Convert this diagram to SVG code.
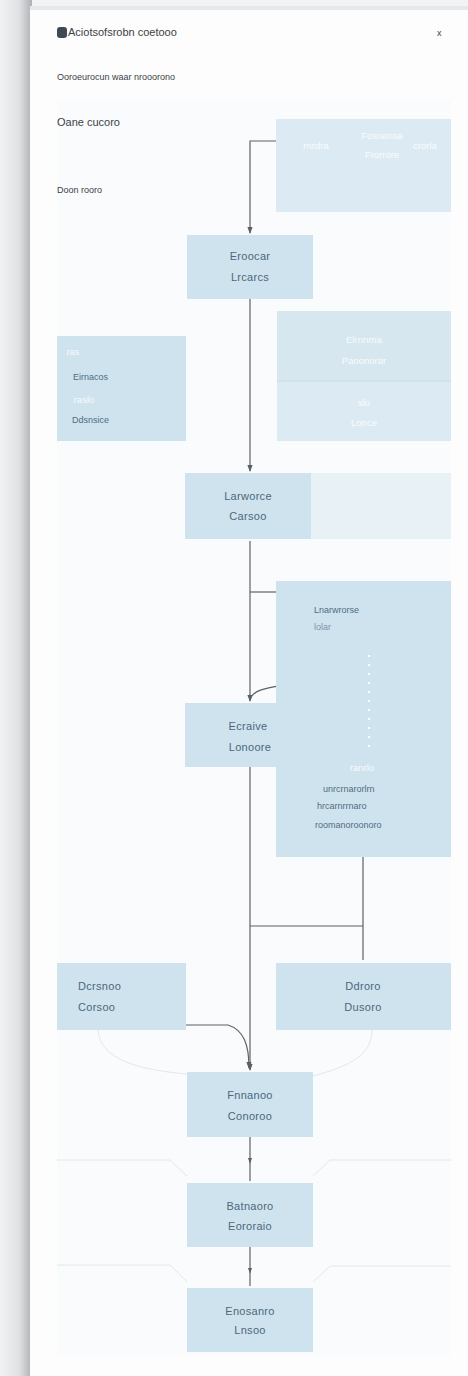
<svg xmlns="http://www.w3.org/2000/svg" width="468" height="1376" viewBox="0 0 468 1376">
<defs>
<linearGradient id="shadow" x1="0" x2="1" y1="0" y2="0">
<stop offset="0" stop-color="#f1f2f3"/>
<stop offset="0.6" stop-color="#dfe1e3"/>
<stop offset="1" stop-color="#aeb2b5"/>
</linearGradient>
<marker id="arr" viewBox="0 0 8 8" refX="7" refY="4" markerWidth="6" markerHeight="6" orient="auto">
<path d="M0,1 L8,4 L0,7 z" fill="#5a5f63"/>
</marker>
<style>
.node{fill:#cfe3ee}
.pale{fill:#dcebf3}
.ntx{font-family:"Liberation Sans",Arial,sans-serif;font-size:11px;fill:#4b687c;text-anchor:middle;letter-spacing:0.3px}
.ltx{font-family:"Liberation Sans",Arial,sans-serif;font-size:9px;fill:#4f6d82}
.lbig{font-family:"Liberation Sans",Arial,sans-serif;font-size:11px;fill:#4b687c;letter-spacing:0.3px}
.wtx{font-family:"Liberation Sans",Arial,sans-serif;font-size:9.5px;fill:#ffffff;fill-opacity:0.85;text-anchor:middle}
.hdr{font-family:"Liberation Sans",Arial,sans-serif;fill:#3c4247}
.ln{fill:none;stroke:#5e6266;stroke-width:1.2}
.faint{fill:none;stroke:#e4e8ea;stroke-width:1}
</style>
</defs>
<rect x="0" y="0" width="468" height="1376" fill="#f2f3f4"/>
<rect x="0" y="0" width="32" height="1376" fill="url(#shadow)"/>
<rect x="30" y="9" width="438" height="1367" fill="#fdfdfd"/>
<rect x="30" y="6" width="438" height="4" fill="#e6e8e9"/>
<rect x="57" y="100" width="394" height="1255" fill="#f9fbfc"/>
<g id="background-lines">
<path class="faint" d="M98,1030 C100,1060 140,1070 187,1074"/>
<path class="faint" d="M372,1030 C372,1055 350,1066 313,1076"/>
<path class="faint" d="M57,1160 H170 L187,1176"/>
<path class="faint" d="M313,1176 L330,1160 H451"/>
<path class="faint" d="M57,1265 H170 L187,1282"/>
<path class="faint" d="M313,1282 L330,1266 H451"/>
</g>
<g id="header">
<rect x="57" y="27" width="10" height="11" rx="3" fill="#3d4a55"/>
<text class="hdr" x="68" y="36" font-size="11">Aciotsofsrobn coetooo</text>
<text class="hdr" x="437" y="36" font-size="9">x</text>
<text class="hdr" x="57" y="80" font-size="9">Ooroeurocun waar nrooorono</text>
<text class="hdr" x="57" y="126" font-size="11">Oane cucoro</text>
<text class="hdr" x="57" y="193" font-size="9">Doon rooro</text>
</g>
<g id="connectors">
<path class="ln" d="M276,141 H250 V233" marker-end="url(#arr)"/>
<path class="ln" d="M250,299 V471" marker-end="url(#arr)"/>
<path class="ln" d="M250,541 V701" marker-end="url(#arr)"/>
<path class="ln" d="M250,592 H276"/>
<path class="ln" d="M284,685 C266,688 252,690 250,700"/>
<path class="ln" d="M250,767 V1070" marker-end="url(#arr)"/>
<path class="ln" d="M250,926 H363"/>
<path class="ln" d="M363,857 V960"/>
<path class="ln" d="M186,1025 H228 C244,1030 249,1045 249,1068" marker-end="url(#arr)"/>
<path class="ln" d="M250,1137 V1181"/>
<path d="M248,1158 L250,1164 L252,1158 z" fill="#5a5f63"/>
<path class="ln" d="M250,1247 V1286"/>
<path d="M248,1268 L250,1274 L252,1268 z" fill="#5a5f63"/>
</g>
<g id="top-right">
<rect class="pale" x="276" y="119" width="175" height="93"/>
<text class="wtx" x="382" y="139">Fosnensa</text>
<text class="wtx" x="316" y="149">rnrdra</text>
<text class="wtx" x="425" y="149">crorla</text>
<text class="wtx" x="382" y="158">Frorrore</text>
</g>
<g id="n1">
<rect class="node" x="187" y="235" width="126" height="64"/>
<text class="ntx" x="250" y="260">Eroocar</text>
<text class="ntx" x="250" y="281">Lrcarcs</text>
</g>
<g id="left-panel">
<rect class="node" x="57" y="336" width="129" height="105"/>
<text class="wtx" x="73" y="355">ras</text>
<text class="ltx" x="73" y="380">Eirnacos</text>
<text class="wtx" x="84" y="403">raslo</text>
<text class="ltx" x="72" y="423">Ddsnsice</text>
</g>
<g id="right-panel">
<rect class="pale" x="277" y="311" width="174" height="130"/>
<rect x="277" y="311" width="174" height="70" fill="#d6e7f0"/>
<line x1="277" y1="381" x2="451" y2="381" stroke="#c8dce8" stroke-width="1"/>
<text class="wtx" x="364" y="343">Elrnnrna</text>
<text class="wtx" x="364" y="364">Paoonorar</text>
<text class="wtx" x="364" y="406">slo</text>
<text class="wtx" x="364" y="426">Lonce</text>
</g>
<g id="n2">
<rect x="311" y="473" width="140" height="66" fill="#e8f1f6"/>
<rect class="node" x="185" y="473" width="126" height="66"/>
<text class="ntx" x="248" y="500">Larworce</text>
<text class="ntx" x="248" y="520">Carsoo</text>
</g>
<g id="big-panel">
<rect class="node" x="276" y="581" width="175" height="276"/>
<text class="ltx" x="314" y="613">Lnarwrorse</text>
<text class="ltx" x="314" y="630" fill-opacity="0.7">lolar</text>
<line x1="369" y1="655" x2="369" y2="752" stroke="#ffffff" stroke-width="2" stroke-dasharray="2,7"/>
<text class="wtx" x="362" y="771">ranrlo</text>
<text class="ltx" x="323" y="792">unrcrnarorlrn</text>
<text class="ltx" x="317" y="809">hrcarnrrnaro</text>
<text class="ltx" x="315" y="828">roomanoroonoro</text>
</g>
<g id="n3">
<rect class="node" x="185" y="703" width="126" height="64"/>
<text class="ntx" x="248" y="730">Ecraive</text>
<text class="ntx" x="250" y="751">Lonoore</text>
</g>
<g id="bottom-left">
<rect class="node" x="57" y="963" width="129" height="67"/>
<text class="lbig" x="78" y="990">Dcrsnoo</text>
<text class="lbig" x="78" y="1011">Corsoo</text>
</g>
<g id="bottom-right">
<rect class="node" x="276" y="963" width="175" height="67"/>
<text class="ntx" x="363" y="990">Ddroro</text>
<text class="ntx" x="363" y="1011">Dusoro</text>
</g>
<g id="n4">
<rect class="node" x="187" y="1072" width="126" height="65"/>
<text class="ntx" x="250" y="1099">Fnnanoo</text>
<text class="ntx" x="250" y="1120">Conoroo</text>
</g>
<g id="n5">
<rect class="node" x="187" y="1183" width="126" height="64"/>
<text class="ntx" x="250" y="1210">Batnaoro</text>
<text class="ntx" x="250" y="1230">Eororaio</text>
</g>
<g id="n6">
<rect class="node" x="187" y="1288" width="126" height="64"/>
<text class="ntx" x="250" y="1315">Enosanro</text>
<text class="ntx" x="250" y="1334">Lnsoo</text>
</g>
</svg>
